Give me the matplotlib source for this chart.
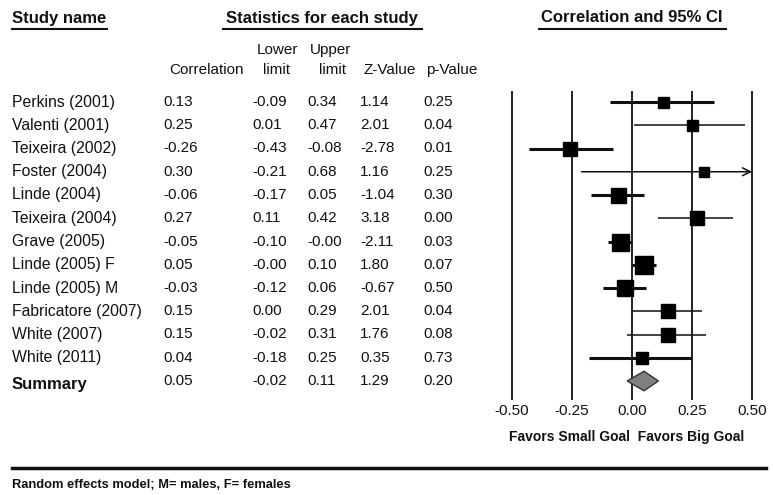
import numpy as np
import matplotlib.pyplot as plt
from matplotlib.patches import Polygon

plt.rcParams['font.family'] = ['Liberation Sans', 'DejaVu Sans']

# study data
studies = ["Perkins (2001)", "Valenti (2001)", "Teixeira (2002)", "Foster (2004)",
           "Linde (2004)", "Teixeira (2004)", "Grave (2005)", "Linde (2005) F",
           "Linde (2005) M", "Fabricatore (2007)", "White (2007)", "White (2011)"]
corr = [0.13, 0.25, -0.26, 0.30, -0.06, 0.27, -0.05, 0.05, -0.03, 0.15, 0.15, 0.04]
lower = [-0.09, 0.01, -0.43, -0.21, -0.17, 0.11, -0.10, -0.00, -0.12, 0.00, -0.02, -0.18]
upper = [0.34, 0.47, -0.08, 0.68, 0.05, 0.42, -0.00, 0.10, 0.06, 0.29, 0.31, 0.25]
zval = [1.14, 2.01, -2.78, 1.16, -1.04, 3.18, -2.11, 1.80, -0.67, 2.01, 1.76, 0.35]
pval = [0.25, 0.04, 0.01, 0.25, 0.30, 0.00, 0.03, 0.07, 0.50, 0.04, 0.08, 0.73]

summ_corr, summ_lower, summ_upper = 0.05, -0.02, 0.11
summ_z, summ_p = 1.29, 0.20

ticks = [-0.50, -0.25, 0.00, 0.25, 0.50]

# drawing style per row
box_px = [11, 11, 14, 10, 15, 14, 17, 18, 16, 14, 14, 12]
ci_lw = [2.2, 1.1, 2.2, 1.1, 2.2, 1.1, 2.2, 2.2, 2.2, 1.1, 1.1, 2.2]

W, H = 773, 495
fig = plt.figure(figsize=(W / 100, H / 100), dpi=100)

# overlay in pixel units for the table text
tx = fig.add_axes([0, 0, 1, 1])
tx.set_xlim(0, W)
tx.set_ylim(H, 0)
tx.axis('off')

ink = '#111111'
row0, step = 102, 23.25

tx.text(12, 18, "Study name", fontsize=12, fontweight='bold', va='center', color=ink)
tx.text(322, 18, "Statistics for each study", fontsize=12, fontweight='bold', ha='center', va='center', color=ink)
tx.text(632, 18, "Correlation and 95% CI", fontsize=12, fontweight='bold', ha='center', va='center', color=ink)
for x0, x1 in [(12, 107), (223, 422), (539, 726)]:
    tx.plot([x0, x1], [28.5, 28.5], color=ink, lw=1.5)

tx.text(277, 50, "Lower", fontsize=11, ha='center', va='center', color=ink)
tx.text(331, 50, "Upper", fontsize=11, ha='center', va='center', color=ink)
tx.text(207, 70, "Correlation", fontsize=11, ha='center', va='center', color=ink)
tx.text(277, 70, "limit", fontsize=11, ha='center', va='center', color=ink)
tx.text(332, 70, "limit", fontsize=11, ha='center', va='center', color=ink)
tx.text(390, 70, "Z-Value", fontsize=11, ha='center', va='center', color=ink)
tx.text(452, 70, "p-Value", fontsize=11, ha='center', va='center', color=ink)

cols = [163, 252, 307, 360, 423]
for i, name in enumerate(studies):
    y = row0 + i * step
    tx.text(12, y, name, fontsize=11.3, va='center', color=ink)
    for x, v in zip(cols, [corr[i], lower[i], upper[i], zval[i], pval[i]]):
        tx.text(x, y, "%.2f" % v, fontsize=11, va='center', color=ink)

ys = row0 + len(studies) * step
tx.text(12, ys + 3, "Summary", fontsize=12, fontweight='bold', va='center', color=ink)
for x, v in zip(cols, [summ_corr, summ_lower, summ_upper, summ_z, summ_p]):
    tx.text(x, ys, "%.2f" % v, fontsize=11, va='center', color=ink)

tx.text(627, 437, "Favors Small Goal  Favors Big Goal", fontsize=10, fontweight='bold',
        ha='center', va='center', color=ink)
tx.plot([12, 766], [468, 468], color=ink, lw=2.5)
tx.text(12, 485, "Random effects model; M= males, F= females", fontsize=9.3, fontweight='bold',
        va='center', color=ink)

# forest plot axes
top_px, bot_px, left_px, right_px = 91, 400, 500, 764
ax = fig.add_axes([left_px / W, 1 - bot_px / H, (right_px - left_px) / W, (bot_px - top_px) / H])
ax.patch.set_alpha(0)
ax.set_xlim(-0.55, 0.55)
ax.set_ylim((bot_px - row0) / step, (top_px - row0) / step)
for s in ax.spines.values():
    s.set_visible(False)
ax.set_xticks(ticks)
ax.set_xticklabels(["%.2f" % t for t in ticks], fontsize=11, color=ink)
ax.tick_params(axis='x', length=0, pad=3)
ax.set_yticks([])
ax.grid(axis='x', color=ink, lw=1.3)

for i in range(len(studies)):
    hi = min(upper[i], ticks[-1])
    if upper[i] > ticks[-1]:
        ax.annotate('', xy=(hi, i), xytext=(lower[i], i),
                    arrowprops=dict(arrowstyle='->', lw=ci_lw[i], color=ink,
                                    shrinkA=0, shrinkB=0, mutation_scale=14))
    else:
        ax.plot([lower[i], hi], [i, i], color=ink, lw=ci_lw[i], solid_capstyle='butt')
    ax.plot(corr[i], i, 's', ms=box_px[i] * 0.72, color='black', mec='black')

k = len(studies)
dh = 0.42
diamond = Polygon([(summ_lower, k), (summ_corr, k - dh), (summ_upper, k), (summ_corr, k + dh)],
                  closed=True, facecolor='#7f7f7f', edgecolor='#333333', lw=1, clip_on=False, zorder=3)
ax.add_patch(diamond)

fig.savefig("out.png", dpi=100)
